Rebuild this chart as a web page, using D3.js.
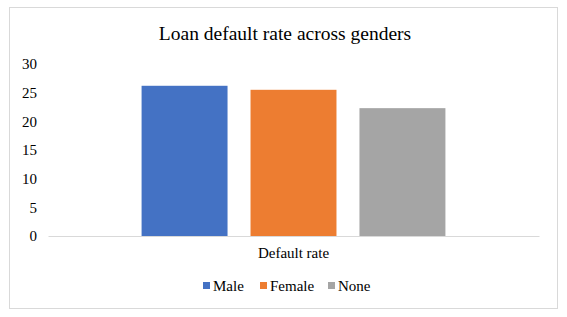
<!DOCTYPE html>
<html>
<head>
<meta charset="utf-8">
<script src="https://cdn.jsdelivr.net/npm/d3@7"></script>
<style>
  body { margin: 0; background: #fff; }
  svg text { font-family: "Liberation Serif", "Times New Roman", serif !important; }
</style>
</head>
<body>
<svg id="chart" width="567" height="317"></svg>
<script>
const categories = ["Default rate"];
const seriesNames = ["Male", "Female", "None"];
const seriesValues = [26.2, 25.5, 22.3];
const seriesColors = ["#4472c4", "#ed7d31", "#a5a5a5"];
const yTicks = [0, 5, 10, 15, 20, 25, 30];

const margin = { top: 64, right: 28, bottom: 81, left: 48 };
const W = 567, H = 317;
const width = W - margin.left - margin.right,
  height = H - margin.top - margin.bottom;

const svg = d3.select("#chart");

// chart frame
svg.append("rect")
  .attr("x", 9.5).attr("y", 7.5)
  .attr("width", 548).attr("height", 301)
  .attr("fill", "#fff").attr("stroke", "#d9d9d9");

svg.append("text")
  .attr("x", 285).attr("y", 40)
  .attr("text-anchor", "middle")
  .attr("font-size", "19.5px")
  .attr("fill", "#000")
  .text("Loan default rate across genders");

const g = svg.append("g")
  .attr("transform", "translate(" + margin.left + "," + margin.top + ")");

const y = d3.scaleLinear().domain([0, 30]).range([height, 0]);
const x0 = d3.scaleBand().domain(categories).range([0, width]).paddingInner(0).paddingOuter(0.308);
const x1 = d3.scaleBand().domain(seriesNames).range([0, x0.bandwidth()]).paddingInner(0.211).paddingOuter(0);

// y axis labels only
const yAxis = g.append("g")
  .call(d3.axisLeft(y).tickValues(yTicks).tickSize(0).tickPadding(11));
yAxis.select(".domain").remove();
yAxis.selectAll("text")
  .attr("font-size", "15px")
  .attr("fill", "#000");

// bars
categories.forEach(c => {
  seriesNames.forEach((s, i) => {
    g.append("rect")
      .attr("x", x0(c) + x1(s))
      .attr("y", y(seriesValues[i]))
      .attr("width", x1.bandwidth())
      .attr("height", height - y(seriesValues[i]))
      .attr("fill", seriesColors[i]);
  });
});

// x axis
const xAxis = g.append("g")
  .attr("transform", "translate(0," + height + ")")
  .call(d3.axisBottom(x0).tickSize(0).tickPadding(11));
xAxis.select(".domain").attr("stroke", "#d9d9d9");
xAxis.selectAll("text")
  .attr("font-size", "15px")
  .attr("fill", "#000");

// legend
const legendX = [203, 260, 328];
const legend = svg.append("g");
seriesNames.forEach((s, i) => {
  legend.append("rect")
    .attr("x", legendX[i]).attr("y", 282)
    .attr("width", 7).attr("height", 7)
    .attr("fill", seriesColors[i]);
  legend.append("text")
    .attr("x", legendX[i] + 10).attr("y", 291)
    .attr("font-size", "15px")
    .attr("fill", "#000")
    .text(s);
});
</script>
</body>
</html>
